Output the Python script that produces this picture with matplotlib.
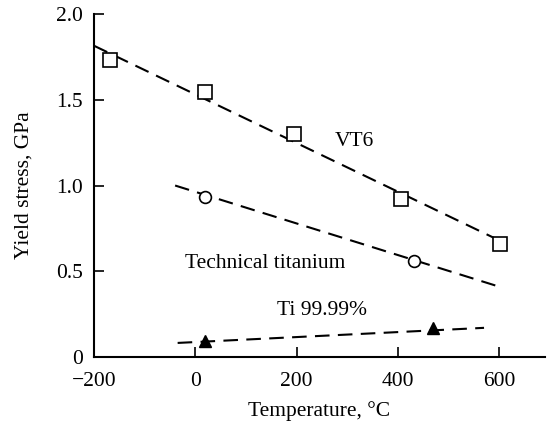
import numpy as np
import matplotlib.pyplot as plt

plt.rcParams['font.family'] = ['Liberation Serif', 'DejaVu Serif']

# measured points
vt6_t = [-168, 19, 194, 407, 602]
vt6_s = [1.73, 1.545, 1.30, 0.92, 0.66]
tech_t = [20, 432]
tech_s = [0.933, 0.56]
pure_t = [20, 470]
pure_s = [0.095, 0.17]

# dashed trend lines (end points)
vt6_fit_t = [-200, 600]
vt6_fit_s = [1.815, 0.68]
tech_fit_t = [-40, 600]
tech_fit_s = [1.0, 0.41]
pure_fit_t = [-35, 570]
pure_fit_s = [0.082, 0.17]

fig = plt.figure(figsize=(5.47, 4.26), dpi=100)
ax = fig.add_axes([0.172, 0.162, 0.824, 0.805])

dash = dict(color='black', lw=1.5, dashes=(7, 4))
ax.plot(vt6_fit_t, vt6_fit_s, **dash)
ax.plot(tech_fit_t, tech_fit_s, **dash)
ax.plot(pure_fit_t, pure_fit_s, **dash)

ax.plot(vt6_t, vt6_s, 's', ms=10, mfc='white', mec='black', mew=1.2, ls='none')
ax.plot(tech_t, tech_s, 'o', ms=8.5, mfc='white', mec='black', mew=1.2, ls='none')
ax.plot(pure_t, pure_s, '^', ms=9, mfc='black', mec='black', ls='none')

fs = 15.5
ax.text(275, 1.254, 'VT6', fontsize=fs, va='center')
ax.text(-20, 0.548, 'Technical titanium', fontsize=fs, va='center')
ax.text(161, 0.274, 'Ti 99.99%', fontsize=fs, va='center')

ax.set_xlim(-200, 690)
ax.set_ylim(0, 2.0)
ax.set_xticks([-200, 0, 200, 400, 600])
ax.set_xticklabels(['\u2212200', '0', '200', '400', '600'])
ax.set_yticks([0, 0.5, 1.0, 1.5, 2.0])
ax.set_yticklabels(['0', '0.5', '1.0', '1.5', '2.0'])
ax.tick_params(direction='in', length=7, width=1.2, labelsize=fs, pad=11)
ax.tick_params(axis='y', pad=8)
ax.spines['top'].set_visible(False)
ax.spines['right'].set_visible(False)
for s in ['left', 'bottom']:
    ax.spines[s].set_linewidth(1.5)

ax.set_xlabel('Temperature, \u00b0C', fontsize=fs, labelpad=7)
ax.set_ylabel('Yield stress, GPa', fontsize=fs, labelpad=16)

fig.savefig('out.png', dpi=100)
